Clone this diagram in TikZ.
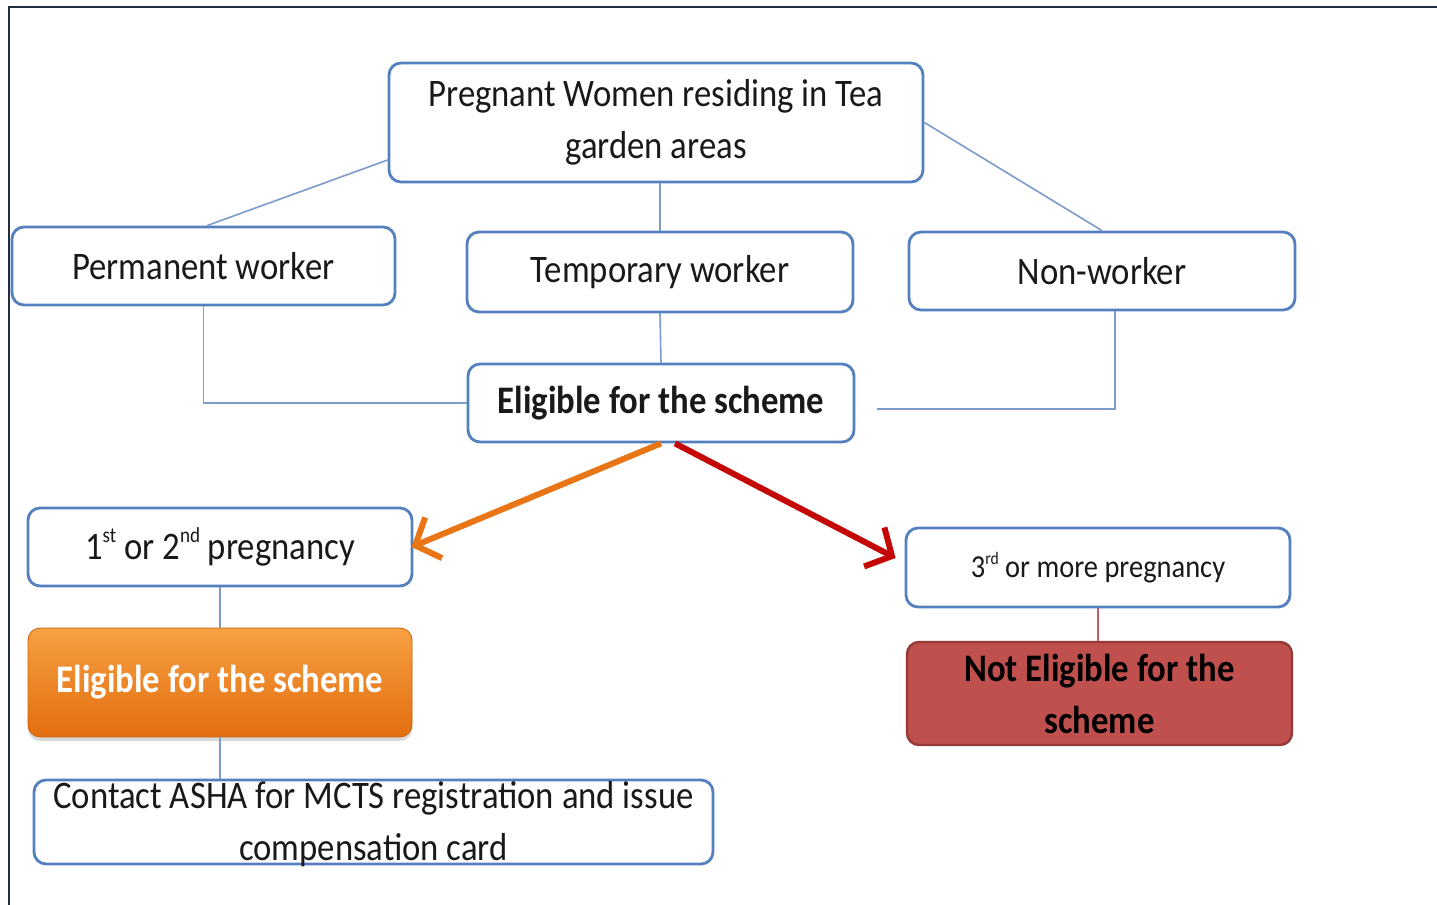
\documentclass[tikz,border=0pt]{standalone}
\usepackage{fontspec}
\setmainfont{Carlito}[FakeStretch=0.89]
\usetikzlibrary{arrows.meta,shadows}
\definecolor{boxblue}{RGB}{84,128,190}
\definecolor{linkblue}{RGB}{125,155,203}
\definecolor{framenavy}{RGB}{31,45,64}
\definecolor{txtdark}{RGB}{25,25,25}
\definecolor{orangetop}{RGB}{247,160,66}
\definecolor{orangebot}{RGB}{226,110,16}
\definecolor{arroworange}{RGB}{232,118,22}
\definecolor{arrowred}{RGB}{196,8,8}
\definecolor{redfill}{RGB}{192,80,77}
\definecolor{redline}{RGB}{150,58,56}
\definecolor{redlink}{RGB}{200,90,100}
% small raised ordinal suffix
\newcommand{\ordsup}[1]{\raisebox{0.42em}{\scalebox{0.55}{#1}}}
\tikzset{
  base/.style={rounded corners=6pt, inner sep=2pt, align=center,
    text=txtdark, font=\fontsize{19.5}{26}\selectfont},
  outline/.style={base, draw=boxblue, line width=1.4pt, fill=white},
  link/.style={draw=linkblue, line width=0.8pt},
  bigarrow/.style={line width=3pt, -{Straight Barb[length=10pt,width=22pt]}},
}
\begin{document}
\begin{tikzpicture}[x=0.5pt,y=-0.5pt]
\useasboundingbox (0,0) rectangle (1437,905);
\fill[white] (0,0) rectangle (1437,905);
% page frame
\draw[framenavy, line width=1.3pt] (9,905) -- (9,7) -- (1437,7);

% top level
\node[outline, minimum width=267pt, minimum height=59.5pt] (top) at (656,122.5)
  {Pregnant Women residing in Tea\\garden areas};

% worker categories
\node[outline, minimum width=191.5pt, minimum height=39pt] (perm) at (203.5,266) {Permanent worker};
\node[outline, minimum width=193pt, minimum height=40pt] (temp) at (660,272) {Temporary worker};
\node[outline, minimum width=193pt, minimum height=39pt] (nonw) at (1102,271) {Non-worker};

% common eligibility
\node[outline, minimum width=193pt, minimum height=39pt, font=\fontsize{19.5}{26}\selectfont\bfseries] (elig) at (661,403) {Eligible for the scheme};

% left branch
\node[outline, minimum width=192pt, minimum height=39pt] (first) at (220,547)
  {1\ordsup{st} or 2\ordsup{nd} pregnancy};
\node[base, minimum width=192pt, minimum height=54.5pt, top color=orangetop, bottom color=orangebot,
  draw=orangebot!90!black, line width=0.4pt, text=white, font=\fontsize{19.5}{26}\selectfont\bfseries,
  drop shadow={shadow xshift=0pt, shadow yshift=-2pt, opacity=0.15, fill=black}]
  (orange) at (220,682.5) {Eligible for the scheme};
\node[outline, minimum width=339.5pt, minimum height=42pt] (contact) at (373.5,822) {};
\node[base, inner sep=0pt] (contacttext) at (373.5,824)
  {Contact ASHA for MCTS registration and issue\\compensation card};

% right branch
\node[outline, minimum width=192pt, minimum height=39.5pt, font=\fontsize{16}{19}\selectfont] (third) at (1098,567.5)
  {3\ordsup{rd} or more pregnancy};
\node[base, minimum width=192.5pt, minimum height=51.5pt, fill=redfill, draw=redline, line width=1.2pt,
  text=black, font=\fontsize{19.5}{26}\selectfont\bfseries] (red) at (1099.5,693.5)
  {Not Eligible for the\\scheme};

% connectors
\draw[link] ([yshift=-18.75pt]top.west) -- ([xshift=1.75pt]perm.north);
\draw[link] (temp.north |- top.south) -- (temp.north);
\draw[link] (top.east) -- (nonw.north);
\draw[link] (perm.south) |- (elig.west);
\draw[link] (temp.south) -- (elig.north);
\draw[link] ([xshift=6.5pt]nonw.south) |- ([xshift=11pt, yshift=-3pt]elig.east);
\draw[link] (first.south) -- (orange.north);
\draw[link] (orange.south) -- (orange.south |- contact.north);
\draw[draw=redlink, line width=0.8pt] (third.south) -- (third.south |- red.north);

% outcome arrows
\draw[bigarrow, arroworange] (elig.south) -- ([xshift=-1pt]first.east);
\draw[bigarrow, arrowred] ([xshift=7pt]elig.south) -- ([shift={(-4.5pt,4.75pt)}]third.west);
\end{tikzpicture}
\end{document}
